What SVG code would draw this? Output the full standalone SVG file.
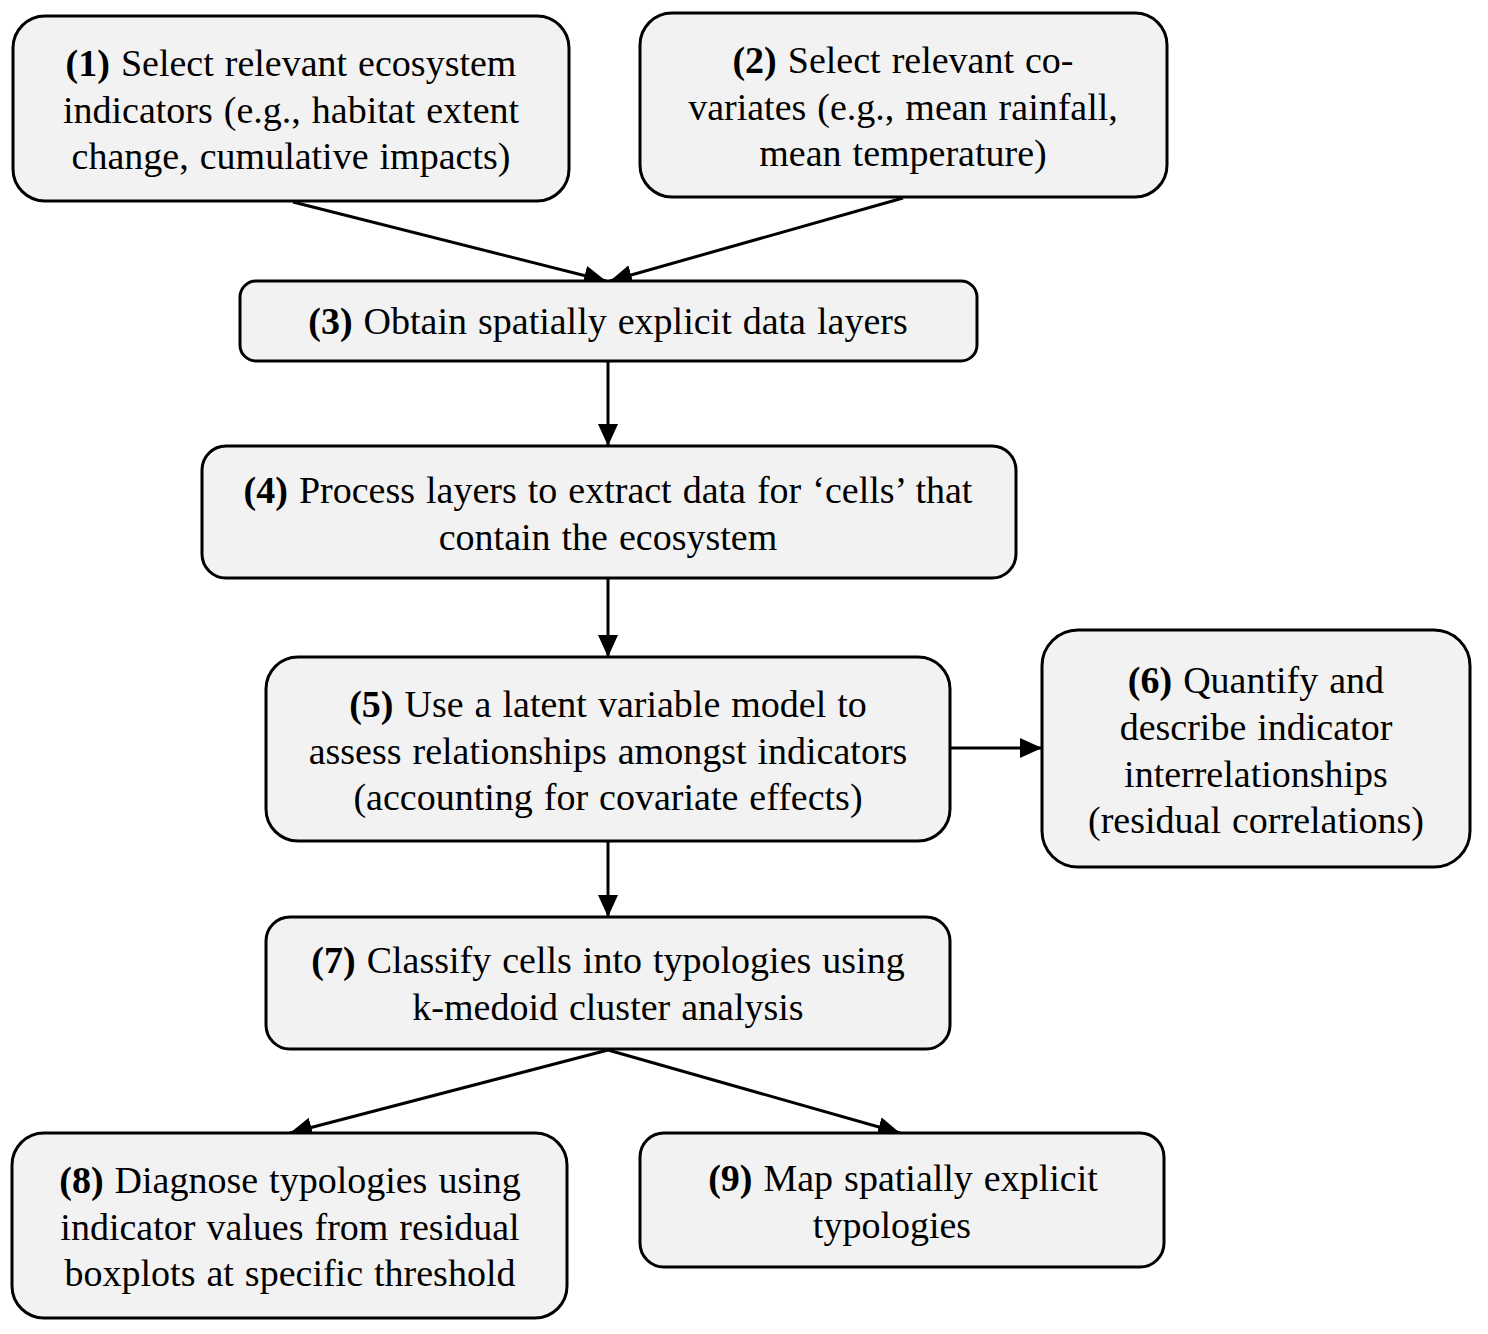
<svg xmlns="http://www.w3.org/2000/svg" width="1488" height="1334" viewBox="0 0 1488 1334">
<style>
.box{fill:#f2f2f2;stroke:#000;stroke-width:3}
text{font-family:"Liberation Serif","Times New Roman",serif;font-size:38px;word-spacing:1.5px;fill:#000;text-anchor:middle}
.b{font-weight:bold}
.c{stroke:#000;stroke-width:3;fill:none;marker-end:url(#ah)}
</style>
<defs>
<marker id="ah" markerUnits="userSpaceOnUse" markerWidth="24" markerHeight="20" refX="22" refY="10" orient="auto">
<path d="M0,0 L22,10 L0,20 Z" fill="#000"/>
</marker>
</defs>
<rect width="1488" height="1334" fill="#fff"/>
<g id="connectors">
<line class="c" x1="293" y1="202" x2="606" y2="281"/>
<line class="c" x1="903" y1="198" x2="610" y2="281"/>
<line class="c" x1="608" y1="362" x2="608" y2="446"/>
<line class="c" x1="608" y1="579" x2="608" y2="657"/>
<line class="c" x1="951" y1="748" x2="1042" y2="748"/>
<line class="c" x1="608" y1="842" x2="608" y2="917"/>
<line class="c" x1="608" y1="1050" x2="290" y2="1133"/>
<line class="c" x1="608" y1="1050" x2="900" y2="1133"/>
</g>
<g id="n1">
<rect class="box" x="13" y="16" width="556" height="185" rx="32"/>
<text x="291" y="76"><tspan class="b">(1)</tspan> Select relevant ecosystem</text>
<text x="291" y="123">indicators (e.g., habitat extent</text>
<text x="291" y="169">change, cumulative impacts)</text>
</g>
<g id="n2">
<rect class="box" x="640" y="13" width="527" height="184" rx="32"/>
<text x="903" y="73"><tspan class="b">(2)</tspan> Select relevant co-</text>
<text x="903" y="120">variates (e.g., mean rainfall,</text>
<text x="903" y="166">mean temperature)</text>
</g>
<g id="n3">
<rect class="box" x="240" y="281" width="737" height="80" rx="16"/>
<text x="608" y="334"><tspan class="b">(3)</tspan> Obtain spatially explicit data layers</text>
</g>
<g id="n4">
<rect class="box" x="202" y="446" width="814" height="132" rx="24"/>
<text x="608" y="503"><tspan class="b">(4)</tspan> Process layers to extract data for ‘cells’ that</text>
<text x="608" y="550">contain the ecosystem</text>
</g>
<g id="n5">
<rect class="box" x="266" y="657" width="684" height="184" rx="32"/>
<text x="608" y="717"><tspan class="b">(5)</tspan> Use a latent variable model to</text>
<text x="608" y="764">assess relationships amongst indicators</text>
<text x="608" y="810">(accounting for covariate effects)</text>
</g>
<g id="n6">
<rect class="box" x="1042" y="630" width="428" height="237" rx="36"/>
<text x="1256" y="693"><tspan class="b">(6)</tspan> Quantify and</text>
<text x="1256" y="740">describe indicator</text>
<text x="1256" y="787">interrelationships</text>
<text x="1256" y="833">(residual correlations)</text>
</g>
<g id="n7">
<rect class="box" x="266" y="917" width="684" height="132" rx="24"/>
<text x="608" y="973"><tspan class="b">(7)</tspan> Classify cells into typologies using</text>
<text x="608" y="1020">k-medoid cluster analysis</text>
</g>
<g id="n8">
<rect class="box" x="12" y="1133" width="555" height="185" rx="32"/>
<text x="290" y="1193"><tspan class="b">(8)</tspan> Diagnose typologies using</text>
<text x="290" y="1240">indicator values from residual</text>
<text x="290" y="1286">boxplots at specific threshold</text>
</g>
<g id="n9">
<rect class="box" x="640" y="1133" width="524" height="134" rx="24"/>
<text x="903" y="1191"><tspan class="b">(9)</tspan> Map spatially explicit</text>
<text x="892" y="1238">typologies</text>
</g>
</svg>
